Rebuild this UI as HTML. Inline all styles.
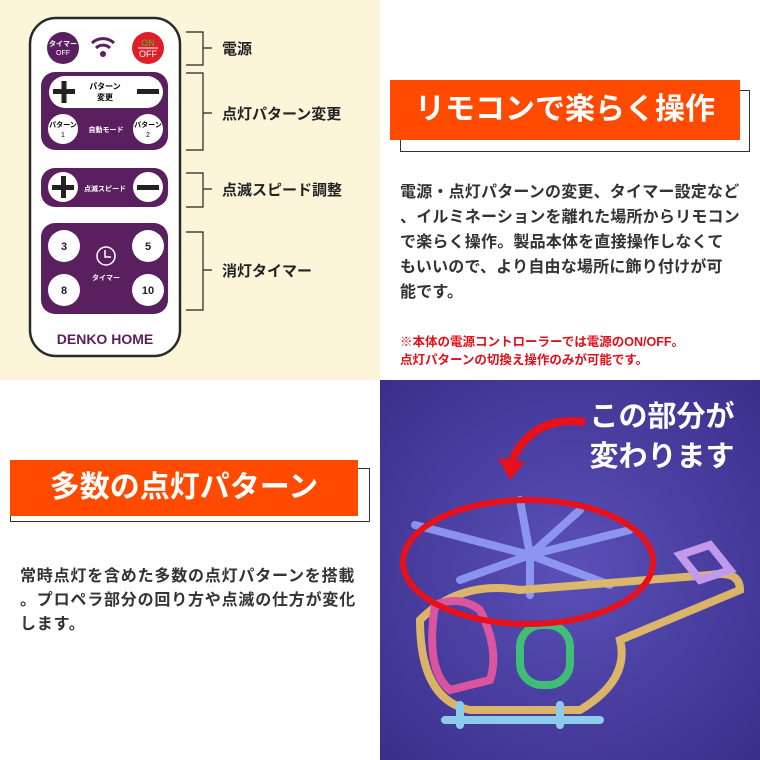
<!DOCTYPE html>
<html><head><meta charset="utf-8"><style>
*{margin:0;padding:0;box-sizing:border-box}
body{width:760px;height:760px;position:relative;background:#fff;font-family:"Liberation Sans","Noto Sans CJK JP",sans-serif;overflow:hidden}
.a{position:absolute}
.lbl{position:absolute;left:222px;font-size:15px;font-weight:bold;color:#222}
.body{position:absolute;font-size:16px;font-weight:bold;color:#333;line-height:25px;white-space:nowrap}
</style></head><body>
<div class="a" style="left:0;top:0;width:380px;height:380px;background:#fdf5da"></div>
<svg class="a" style="left:0;top:0" width="380" height="380">
<rect x="30" y="18" width="150" height="338" rx="26" fill="#fff" stroke="#2a2a2a" stroke-width="2.5"/>
<circle cx="63" cy="48" r="16" fill="#5a1f5e"/>
<text x="63" y="46" font-size="7" fill="#fff" text-anchor="middle" font-weight="bold">タイマー</text>
<text x="63" y="55" font-size="7" fill="#fff" text-anchor="middle">OFF</text>
<circle cx="103" cy="54" r="3" fill="#5a1f5e"/>
<path d="M96 48 A10 10 0 0 1 110 48 M92 43 A16 16 0 0 1 114 43" stroke="#5a1f5e" stroke-width="3" fill="none"/>
<circle cx="148" cy="48" r="16" fill="#e01e2a"/>
<text x="148" y="46" font-size="9" fill="#3c3" text-anchor="middle">ON</text>
<line x1="138" y1="48" x2="158" y2="48" stroke="#fff"/>
<text x="148" y="57" font-size="9" fill="#fff" text-anchor="middle">OFF</text>
<rect x="41" y="72" width="127" height="78" rx="14" fill="#5a1f5e"/>
<rect x="49" y="76" width="114" height="32" rx="16" fill="#fff"/>
<rect x="53" y="89" width="22" height="5" fill="#222"/><rect x="61.5" y="81" width="5" height="22" fill="#222"/>
<rect x="137" y="89" width="22" height="5" fill="#222"/>
<text x="105" y="89" font-size="8" text-anchor="middle" font-weight="bold">パターン</text>
<text x="105" y="100" font-size="8" text-anchor="middle" font-weight="bold">変更</text>
<circle cx="63" cy="129" r="15" fill="#fff"/><circle cx="148" cy="129" r="15" fill="#fff"/>
<text x="63" y="127" font-size="7" text-anchor="middle" font-weight="bold">パターン</text><text x="63" y="137" font-size="7" text-anchor="middle">1</text>
<text x="148" y="127" font-size="7" text-anchor="middle" font-weight="bold">パターン</text><text x="148" y="137" font-size="7" text-anchor="middle">2</text>
<text x="106" y="132" font-size="7" fill="#fff" text-anchor="middle" font-weight="bold">自動モード</text>
<rect x="41" y="168" width="127" height="39" rx="14" fill="#5a1f5e"/>
<circle cx="63" cy="187" r="15" fill="#fff"/><circle cx="148" cy="187" r="15" fill="#fff"/>
<rect x="52" y="185" width="22" height="5" fill="#222"/><rect x="61" y="176" width="5" height="22" fill="#222"/>
<rect x="137" y="185" width="22" height="5" fill="#222"/>
<text x="105" y="191" font-size="7" fill="#fff" text-anchor="middle" font-weight="bold">点滅スピード</text>
<rect x="41" y="223" width="127" height="91" rx="14" fill="#5a1f5e"/>
<circle cx="64" cy="246" r="16" fill="#fff"/><circle cx="148" cy="246" r="16" fill="#fff"/>
<circle cx="64" cy="290" r="16" fill="#fff"/><circle cx="148" cy="290" r="16" fill="#fff"/>
<g font-size="11" font-weight="bold" text-anchor="middle" fill="#222"><text x="64" y="250">3</text><text x="148" y="250">5</text><text x="64" y="294">8</text><text x="148" y="294">10</text></g>
<circle cx="106" cy="256" r="9" fill="none" stroke="#fff" stroke-width="1.5"/>
<path d="M105 250 V257 H111" stroke="#fff" fill="none" stroke-width="1.5"/>
<text x="106" y="280" font-size="7" fill="#fff" text-anchor="middle" font-weight="bold">タイマー</text>
<text x="105" y="344" font-size="14" font-weight="bold" fill="#5a1f5e" text-anchor="middle" font-family="Liberation Sans">DENKO HOME</text>
<g stroke="#222" stroke-width="1.2" fill="none">
<path d="M186 32 H203 V65 H186"/>
<path d="M186 73 H203 V150 H186"/>
<path d="M186 173 H203 V207 H186"/>
<path d="M186 232 H203 V310 H186"/>
<path d="M203 48 H212 M203 113 H212 M203 189 H212 M203 270 H212"/>
</g>
</svg>
<div class="lbl" style="top:38px">電源</div>
<div class="lbl" style="top:103px">点灯パターン変更</div>
<div class="lbl" style="top:179px">点滅スピード調整</div>
<div class="lbl" style="top:260px">消灯タイマー</div>

<div class="a" style="left:400px;top:90px;width:350px;height:62px;border:1.5px solid #333"></div>
<div class="a" style="left:390px;top:80px;width:350px;height:60px;background:#ff4a00;color:#fff;font-size:30px;font-weight:bold;text-align:center;line-height:60px">リモコンで楽らく操作</div>
<div class="body" style="left:400px;top:180px;letter-spacing:0.2px">電源・点灯パターンの変更、タイマー設定など<br>、イルミネーションを離れた場所からリモコン<br>で楽らく操作。製品本体を直接操作しなくて<br>もいいので、より自由な場所に飾り付けが可<br>能です。</div>
<div class="a" style="left:400px;top:333px;font-size:12.5px;font-weight:bold;color:#e0101a;line-height:18px">※本体の電源コントローラーでは電源のON/OFF。<br>点灯パターンの切換え操作のみが可能です。</div>

<div class="a" style="left:10px;top:468px;width:360px;height:54px;border:1.5px solid #333"></div>
<div class="a" style="left:10px;top:460px;width:348px;height:56px;background:#ff4a00;color:#fff;font-size:30px;font-weight:bold;text-align:center;line-height:56px">多数の点灯パターン</div>
<div class="body" style="left:20px;top:565px;line-height:24px;letter-spacing:0.8px">常時点灯を含めた多数の点灯パターンを搭載<br>。プロペラ部分の回り方や点滅の仕方が変化<br>します。</div>

<svg class="a" style="left:380px;top:380px" width="380" height="380">
<defs><radialGradient id="g" cx="0.5" cy="0.5" r="0.7"><stop offset="0" stop-color="#5a50b8"/><stop offset="1" stop-color="#3a2f8a"/></radialGradient></defs>
<rect width="380" height="380" fill="url(#g)"/>
<g fill="none" stroke-width="8" stroke-linecap="round" opacity="0.8">
<path d="M35 145 L150 175 L250 150 M150 175 L140 120 M150 175 L200 130 M150 175 L80 200 M150 175 L150 215 M150 175 L230 205" stroke="#9aa8ff"/>
<path d="M40 240 Q80 200 140 210 L330 195 Q360 190 360 210 L240 260 Q250 300 200 330 L90 330 Q40 320 40 240Z" stroke="#ffd25a"/>
<path d="M55 225 Q80 215 100 230 Q120 270 110 300 L70 310 Q45 290 55 225Z" stroke="#ff5aa0"/>
<rect x="140" y="245" width="50" height="60" rx="22" stroke="#3ddc6a"/>
<path d="M65 340 H220 M80 325 V345 M180 325 V345" stroke="#9ff0ff"/>
<path d="M300 175 L330 165 L350 190 L320 200Z" stroke="#e0b0ff"/>
</g>
<ellipse cx="148" cy="182" rx="125" ry="62" fill="none" stroke="#e8101a" stroke-width="6"/>
<path d="M205 42 Q150 35 130 85" fill="none" stroke="#e8101a" stroke-width="8"/>
<path d="M118 78 L130 100 L145 82Z" fill="#e8101a"/>
<text x="282" y="46" font-size="29" font-weight="bold" fill="#fff" text-anchor="middle">この部分が</text>
<text x="282" y="86" font-size="29" font-weight="bold" fill="#fff" text-anchor="middle">変わります</text>
</svg>
</body></html>
